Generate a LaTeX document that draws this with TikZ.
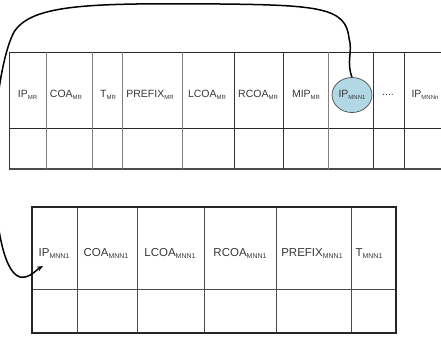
\documentclass[tikz,border=0pt]{standalone}
\usepackage{fontspec}
\setmainfont{Liberation Sans}
\usetikzlibrary{shapes.geometric,arrows.meta}
\definecolor{cellblue}{RGB}{178,216,230}
\definecolor{inkgrey}{RGB}{55,55,55}
\newcommand{\sublbl}[2]{#1\raisebox{-2.6pt}{\fontsize{6}{6}\selectfont #2}}
\newcommand{\bigsublbl}[2]{#1\raisebox{-2.9pt}{\fontsize{7}{7}\selectfont #2}}
\tikzset{
  lab/.style={anchor=base, inner sep=0pt, text=inkgrey, font=\fontsize{10.5}{12}\selectfont},
  biglab/.style={anchor=base, inner sep=0pt, text=inkgrey, font=\fontsize{11.5}{13}\selectfont},
  hline/.style={line width=0.9pt, black!85},
  vgrey/.style={line width=0.9pt, black!50},
  vdark/.style={line width=0.9pt, black!80},
  frame/.style={line width=1.5pt, black!85},
  inner/.style={line width=0.8pt, black!70},
  conn/.style={line width=1.5pt, black, -{Stealth[length=6pt,width=5pt]}},
  bubble/.style={ellipse, draw=black!70, line width=0.7pt, fill=cellblue, minimum width=40pt, minimum height=35pt, inner sep=0pt}
}
\begin{document}
\begin{tikzpicture}[x=1pt,y=-1pt]
\useasboundingbox (0,0) rectangle (441,337);
\clip (0,0) rectangle (441,337);

% upper table (open on the right)
\draw[hline] (9,52) -- (441,52);
\draw[hline] (9,128) -- (441,128);
\draw[line width=1.3pt, black!70] (9,169) -- (441,169);
\draw[vdark] (9,52) -- (9,169);
\foreach \x in {46,92,122,182,328}
  \draw[vgrey] (\x,52) -- (\x,169);
\foreach \x in {234,283,373,404}
  \draw[vdark] (\x,52) -- (\x,169);

% upper table labels
\node[lab] (mr1) at (27.5,97) {\sublbl{IP}{MR}};
\node[lab] (mr2) at (66,97) {\sublbl{COA}{MR}};
\node[lab] (mr3) at (108,97) {\sublbl{T}{MR}};
\node[lab] (mr4) at (150,97) {\sublbl{PREFIX}{MR}};
\node[lab] (mr5) at (207,97) {\sublbl{LCOA}{MR}};
\node[lab] (mr6) at (258,97) {\sublbl{RCOA}{MR}};
\node[lab] (mr7) at (306,97) {\sublbl{MIP}{MR}};
\node[bubble] (ell) at (352,95) {};
\node[lab] (mr8) at (352,97) {\sublbl{IP}{MNN1}};
\node[lab] (mr9) at (388,95) {....};
\node[lab] (mr10) at (425,97) {\sublbl{IP}{MNNn}};

% lower table
\draw[inner] (32,289) -- (396,289);
\foreach \x in {77,137,204,276,351}
  \draw[inner] (\x,207) -- (\x,333);
\draw[frame] (32,207) rectangle (396,333);

% lower table labels
\node[biglab] (m1) at (54,256) {\bigsublbl{IP}{MNN1}};
\node[biglab] (m2) at (106,256) {\bigsublbl{COA}{MNN1}};
\node[biglab] (m3) at (170,256) {\bigsublbl{LCOA}{MNN1}};
\node[biglab] (m4) at (240,256) {\bigsublbl{RCOA}{MNN1}};
\node[biglab] (m5) at (312,256) {\bigsublbl{PREFIX}{MNN1}};
\node[biglab] (m6) at (369,256) {\bigsublbl{T}{MNN1}};

% link from the bubble back to the first field of the lower table
\coordinate (tip) at (43,266);
\draw[conn] (ell.north) .. controls (346,62) and (353,52) .. (349,38)
  .. controls (346,8) and (320,5) .. (220,4)
  .. controls (90,3) and (32,4) .. (14,32)
  .. controls (2,55) and (-6,110) .. (-6,160)
  .. controls (-6,215) and (2,272) .. (20,277)
  .. controls (29,279) and (36,270) .. (tip);
\end{tikzpicture}
\end{document}
